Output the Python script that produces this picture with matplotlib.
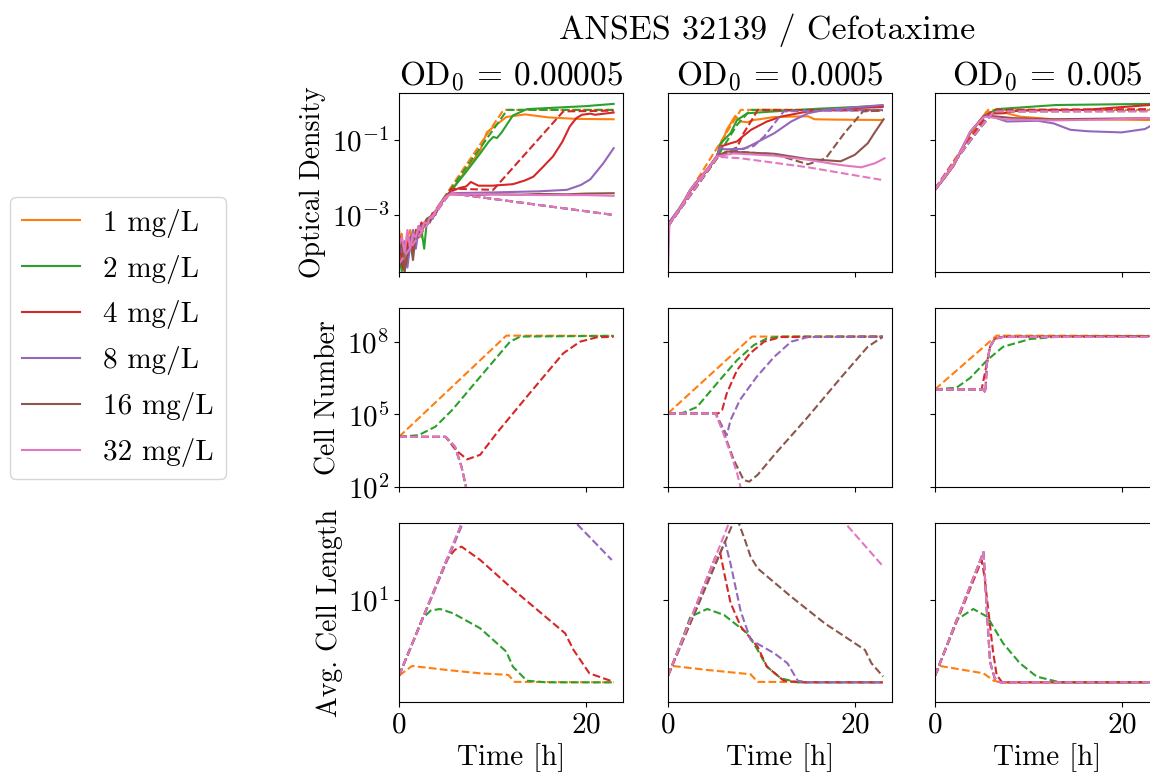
import numpy as np
import matplotlib.pyplot as plt

plt.rcParams['font.family'] = 'serif'
plt.rcParams['font.serif'] = ['cmr10']
plt.rcParams['mathtext.fontset'] = 'cm'
plt.rcParams['axes.formatter.use_mathtext'] = True

concs = ['1 mg/L', '2 mg/L', '4 mg/L', '8 mg/L', '16 mg/L', '32 mg/L']
colors = ['tab:orange', 'tab:green', 'tab:red', 'tab:purple', 'tab:brown', 'tab:pink']
od0 = ['0.00005', '0.0005', '0.005']

# ---- measured OD (solid lines), values are log10(OD) ----
early1 = [0, 0.3, 0.6, 0.9, 1.2, 1.5, 1.8, 2.1, 2.4, 2.7, 3.0, 3.3, 3.6, 3.9, 4.2, 4.6, 5.0]
od_meas_1 = [
    (early1 + [5.5, 7.2, 8.7, 9.4, 9.8, 10.3, 11.5, 13.5, 16, 19, 23],
     [-3.9, -3.5, -4.4, -3.6, -3.4, -3.9, -3.5, -3.3, -3.6, -3.2, -3.1, -3.2, -3.0, -2.95, -2.8, -2.65, -2.52,
      -2.38, -1.8, -1.28, -0.8, -0.72, -0.62, -0.39, -0.32, -0.4, -0.44, -0.45]),
    (early1 + [5.5, 7.2, 8.7, 9.6, 10.1, 10.5, 11.0, 12.2, 13.7, 16, 20, 23],
     [-4.1, -4.5, -3.8, -4.2, -3.6, -3.5, -3.7, -3.3, -3.4, -3.9, -3.1, -3.05, -3.1, -2.9, -2.8, -2.62, -2.5,
      -2.38, -1.85, -1.36, -1.05, -0.92, -0.95, -0.8, -0.35, -0.18, -0.15, -0.1, -0.04]),
    (early1 + [5.5, 6.5, 7.2, 7.7, 8.5, 10, 12.2, 13.5, 14.4, 15.5, 16.5, 17.5, 18.3, 19.0, 19.6, 20.5, 21, 23],
     [-3.4, -4.3, -4.5, -3.8, -3.6, -4.0, -3.4, -3.5, -3.2, -3.3, -3.15, -3.1, -2.95, -3.0, -2.78, -2.66, -2.52,
      -2.38, -2.28, -2.24, -2.12, -2.22, -2.22, -2.18, -2.08, -1.98, -1.7, -1.44, -1.05, -0.64, -0.42, -0.33,
      -0.3, -0.33, -0.27]),
    (early1 + [5.5, 10, 15, 18, 19.5, 20.5, 21.9, 23],
     [-3.6, -4.0, -3.7, -4.4, -3.8, -3.4, -3.9, -3.4, -3.3, -3.25, -3.2, -3.05, -3.1, -2.9, -2.82, -2.63, -2.53,
      -2.42, -2.4, -2.37, -2.33, -2.2, -2.05, -1.62, -1.22]),
    (early1 + [5.5, 8, 10, 13, 15, 18, 20, 23],
     [-4.0, -3.7, -4.5, -4.1, -3.7, -4.2, -3.5, -3.6, -3.4, -3.3, -3.1, -3.2, -3.0, -2.97, -2.8, -2.66, -2.5,
      -2.45, -2.47, -2.45, -2.46, -2.44, -2.45, -2.43, -2.42]),
    (early1 + [5.5, 10, 15, 20, 23],
     [-3.8, -3.6, -4.0, -3.4, -3.9, -3.5, -3.6, -3.3, -3.45, -3.2, -3.22, -3.08, -3.02, -2.92, -2.78, -2.64, -2.52,
      -2.45, -2.45, -2.47, -2.47, -2.49]),
]

early2 = [0, 0.15, 0.5, 1.0, 1.5, 2.4, 3.3, 4.2, 5.25]
od_meas_2 = [
    (early2 + [5.6, 6.3, 7.2, 7.8, 8.5, 9.2, 11.4, 15.0, 15.7, 18, 23],
     [-3.35, -3.2, -3.08, -2.92, -2.75, -2.36, -2.05, -1.82, -1.45,
      -1.2, -0.73, -0.36, -0.51, -0.53, -0.47, -0.39, -0.37, -0.45, -0.46, -0.47]),
    (early2 + [5.6, 6.7, 7.4, 8.5, 11.4, 16, 23],
     [-3.3, -3.22, -3.1, -2.9, -2.72, -2.33, -2.08, -1.8, -1.44,
      -1.1, -0.82, -0.47, -0.29, -0.24, -0.17, -0.09]),
    (early2 + [5.6, 6.7, 7.4, 7.8, 8.9, 10.6, 12.1, 15, 18.5, 23],
     [-3.28, -3.18, -3.1, -2.93, -2.74, -2.35, -2.04, -1.78, -1.43,
      -1.18, -1.09, -1.04, -0.95, -0.73, -0.51, -0.38, -0.24, -0.17, -0.12]),
    (early2 + [5.6, 6.0, 8.1, 9.1, 11.4, 13.2, 15, 16.8, 23],
     [-3.3, -3.2, -3.06, -2.9, -2.73, -2.32, -2.06, -1.8, -1.42,
      -1.18, -1.25, -1.24, -1.12, -0.82, -0.51, -0.29, -0.2, -0.07]),
    (early2 + [6.3, 11.4, 15, 18.5, 20, 21.4, 22.1, 23.1],
     [-3.4, -3.25, -3.1, -2.94, -2.76, -2.34, -2.05, -1.8, -1.44,
      -1.31, -1.37, -1.51, -1.57, -1.4, -1.09, -0.82, -0.45]),
    (early2 + [7.05, 11.4, 15, 18.5, 20.7, 22.2, 23.2],
     [-4.5, -3.25, -3.1, -2.92, -2.74, -2.33, -2.05, -1.79, -1.44,
      -1.36, -1.42, -1.53, -1.67, -1.73, -1.62, -1.49]),
]

early3 = [0, 1.1, 2.0, 3.8, 5.2]
od_meas_3 = [
    (early3 + [5.5, 7.7, 9.1, 12.7, 16, 23],
     [-2.33, -1.98, -1.69, -0.8, -0.36, -0.25, -0.29, -0.38, -0.45, -0.45, -0.47]),
    (early3 + [6.6, 13, 23],
     [-2.33, -1.99, -1.67, -0.8, -0.38, -0.18, -0.07, -0.04]),
    (early3 + [5.8, 7.3, 8.2, 9.1, 16, 23],
     [-2.33, -1.98, -1.68, -0.79, -0.37, -0.3, -0.29, -0.24, -0.22, -0.2, -0.07]),
    (early3 + [5.5, 7.7, 11, 12.7, 14.5, 16.4, 20, 22.5, 23],
     [-2.33, -1.97, -1.66, -0.78, -0.38, -0.33, -0.51, -0.49, -0.56, -0.73, -0.77, -0.8, -0.71, -0.64]),
    (early3 + [5.5, 8.4, 12.7, 23],
     [-2.34, -1.98, -1.67, -0.78, -0.39, -0.35, -0.42, -0.45, -0.42]),
    (early3 + [5.5, 7.4, 12.7, 18, 23],
     [-2.33, -1.98, -1.67, -0.77, -0.4, -0.38, -0.45, -0.48, -0.46, -0.42]),
]

# ---- model OD (dashed), log10(OD) ----
od_model_1 = [
    ([0, 11.2, 23], [-4.3, -0.2, -0.2]),
    ([0, 5.5, 11.6, 23], [-4.3, -2.33, -0.2, -0.2]),
    ([0, 5.6, 10.1, 17.6, 23], [-4.3, -2.3, -2.33, -0.24, -0.22]),
    ([0, 5.5, 7, 23], [-4.3, -2.4, -2.47, -3.0]),
    ([0, 5.5, 7, 23], [-4.3, -2.4, -2.47, -3.0]),
    ([0, 5.5, 7, 23], [-4.3, -2.4, -2.47, -3.0]),
]
od_model_2 = [
    ([0, 7.8, 23], [-3.3, -0.2, -0.2]),
    ([0, 5.4, 7.4, 8.85, 23], [-3.3, -1.4, -0.6, -0.2, -0.2]),
    ([0, 5.5, 7.4, 8.1, 9.2, 9.6, 23], [-3.3, -1.4, -1.2, -0.82, -0.38, -0.2, -0.22]),
    ([0, 5.5, 7, 9.2, 10.3, 11.4, 12.4, 23], [-3.3, -1.4, -1.3, -1.16, -0.91, -0.56, -0.24, -0.2]),
    ([0, 5.5, 7, 11.4, 15, 16.9, 18.9, 20.9, 23], [-3.3, -1.4, -1.31, -1.38, -1.65, -1.49, -0.82, -0.24, -0.22]),
    ([0, 5.3, 7.8, 15, 23], [-3.3, -1.45, -1.49, -1.73, -2.07]),
]
od_model_3 = [
    ([0, 5.7, 23], [-2.3, -0.2, -0.2]),
    ([0, 6.2, 23], [-2.3, -0.21, -0.2]),
    ([0, 5.5, 6.5, 23], [-2.3, -0.35, -0.2, -0.18]),
    ([0, 3.8, 6.3, 23], [-2.3, -1.0, -0.24, -0.23]),
    ([0, 3.8, 6.3, 23], [-2.3, -1.0, -0.24, -0.23]),
    ([0, 3.8, 6.3, 23], [-2.3, -1.0, -0.24, -0.24]),
]

# ---- model cell number (dashed), log10(N) ----
cells_1 = [
    ([0, 11.5, 23], [4.07, 8.25, 8.24]),
    ([0, 2.1, 3.9, 5.7, 8.7, 11.9, 13.0, 23], [4.07, 4.14, 4.49, 5.18, 6.55, 8.0, 8.21, 8.24]),
    ([0, 5.0, 6.1, 7.3, 8.7, 10.5, 14.0, 17.6, 19.4, 21.2, 23],
     [4.07, 4.07, 3.52, 3.14, 3.33, 4.24, 5.87, 7.52, 8.0, 8.18, 8.2]),
    ([0, 5.0, 6.0, 6.7, 7.2, 8.5], [4.07, 4.07, 3.66, 2.83, 1.97, 0.5]),
    ([0, 5.0, 6.0, 6.7, 7.2, 8.5], [4.07, 4.07, 3.66, 2.83, 1.97, 0.5]),
    ([0, 5.0, 6.0, 6.7, 7.2, 8.5], [4.07, 4.07, 3.66, 2.83, 1.97, 0.5]),
]
cells_2 = [
    ([0, 9.0, 23], [5.04, 8.21, 8.21]),
    ([0, 1.6, 3.1, 5.25, 7.4, 9.2, 10.6, 12, 23], [5.04, 5.06, 5.3, 6.28, 7.24, 7.86, 8.13, 8.21, 8.21]),
    ([0, 5.4, 5.8, 6.3, 7.4, 8.8, 10.3, 12.1, 23], [5.04, 5.04, 5.18, 5.87, 6.83, 7.52, 8.0, 8.19, 8.21]),
    ([0, 5.1, 6.3, 6.7, 7.7, 9.5, 11.4, 13.2, 15, 23], [5.04, 5.04, 4.14, 4.76, 5.59, 6.55, 7.38, 8.0, 8.19, 8.21]),
    ([0, 5.1, 6.0, 7.05, 8.1, 8.7, 9.6, 11.4, 15, 18.6, 21.4, 22.5, 23],
     [5.04, 5.04, 4.22, 3.12, 2.29, 2.22, 2.5, 3.33, 4.9, 6.55, 7.79, 8.07, 8.19]),
    ([0, 5.1, 5.8, 6.7, 7.4, 7.8, 8.5], [5.04, 5.04, 4.35, 3.4, 2.57, 1.95, 1.0]),
]
cells_3 = [
    ([0, 6.6, 23], [6.03, 8.25, 8.24]),
    ([0, 2.3, 3.76, 5.6, 7.3, 10.2, 12.7, 23], [6.03, 6.1, 6.5, 7.24, 7.79, 8.11, 8.19, 8.22]),
    ([0, 5.0, 5.5, 5.9, 6.4, 7.3, 23], [6.03, 6.03, 7.0, 7.79, 8.12, 8.2, 8.22]),
    ([0, 5.2, 5.4, 5.56, 5.9, 6.4, 7.3, 23], [6.03, 6.03, 5.9, 7.1, 7.79, 8.12, 8.2, 8.22]),
    ([0, 5.2, 5.4, 5.56, 5.9, 6.4, 7.3, 23], [6.03, 6.03, 5.9, 7.1, 7.79, 8.12, 8.2, 8.22]),
    ([0, 5.2, 5.4, 5.56, 5.9, 6.4, 7.3, 23], [6.03, 6.03, 5.88, 7.1, 7.79, 8.12, 8.19, 8.2]),
]

# ---- model average cell length (dashed), log10(L) ----
length_1 = [
    ([0, 1.4, 5.1, 8.7, 11.7, 12.4, 23], [0.353, 0.436, 0.402, 0.373, 0.36, 0.30, 0.296]),
    ([0, 1.6, 2.5, 3.4, 4.4, 5.8, 8.7, 11.5, 12.2, 13.7, 15.8, 23],
     [0.353, 0.66, 0.84, 0.91, 0.923, 0.886, 0.758, 0.558, 0.43, 0.31, 0.296, 0.296]),
    ([0, 5.1, 6.0, 6.7, 8.7, 12.3, 17.8, 18.7, 20.4, 23],
     [0.353, 1.342, 1.43, 1.456, 1.342, 1.085, 0.715, 0.573, 0.373, 0.30]),
    ([0, 11, 19.0, 22.8], [0.353, 2.45, 1.655, 1.342]),
    ([0, 12, 23], [0.353, 2.68, 2.0]),
    ([0, 12, 23], [0.353, 2.68, 2.2]),
]
length_2 = [
    ([0, 0.5, 4.2, 8.85, 9.6, 23], [0.353, 0.436, 0.402, 0.365, 0.30, 0.296]),
    ([0, 1.5, 2.4, 4.2, 6.0, 8.5, 9.6, 10.6, 12.1, 13.9, 23],
     [0.353, 0.66, 0.857, 0.923, 0.872, 0.715, 0.573, 0.43, 0.33, 0.296, 0.296]),
    ([0, 5.1, 5.6, 6.1, 6.7, 7.8, 9.6, 10.6, 12.4, 14.2, 23],
     [0.353, 1.37, 1.40, 1.2, 0.976, 0.772, 0.6, 0.43, 0.31, 0.296, 0.296]),
    ([0, 6.1, 6.7, 7.8, 8.85, 11.4, 12.8, 13.9, 15, 23],
     [0.353, 1.5, 1.31, 0.9, 0.66, 0.544, 0.459, 0.31, 0.296, 0.296]),
    ([0, 7.3, 8.3, 8.85, 9.6, 13.2, 16.8, 21.1, 21.8, 23.05],
     [0.353, 1.72, 1.5, 1.37, 1.27, 1.028, 0.8, 0.573, 0.459, 0.345]),
    ([0, 11, 19.0, 22.9], [0.353, 2.55, 1.655, 1.3]),
]
length_3 = [
    ([0, 0.54, 5.2, 6.3, 7.0, 23], [0.353, 0.436, 0.373, 0.31, 0.296, 0.296]),
    ([0, 1.5, 2.3, 4.1, 5.6, 7.3, 9.1, 10.9, 13.4, 23],
     [0.353, 0.66, 0.83, 0.923, 0.857, 0.63, 0.459, 0.345, 0.296, 0.296]),
    ([0, 5.0, 5.3, 6.2, 6.6, 7.2, 23], [0.353, 1.34, 1.2, 0.57, 0.36, 0.296, 0.296]),
    ([0, 5.2, 5.56, 5.9, 6.4, 7.0, 23], [0.353, 1.41, 0.9, 0.47, 0.33, 0.296, 0.296]),
    ([0, 5.2, 5.56, 5.9, 6.4, 7.0, 23], [0.353, 1.41, 0.9, 0.47, 0.33, 0.296, 0.296]),
    ([0, 5.2, 5.56, 5.9, 6.4, 7.0, 23], [0.353, 1.41, 0.9, 0.47, 0.33, 0.296, 0.296]),
]

meas = [od_meas_1, od_meas_2, od_meas_3]
models = [[od_model_1, od_model_2, od_model_3],
          [cells_1, cells_2, cells_3],
          [length_1, length_2, length_3]]
ylabels = ['Optical Density', 'Cell Number', 'Avg. Cell Length']
ylims = [(10 ** -4.52, 10 ** 0.25), (1e2, 10 ** 9.39), (10 ** 0.128, 10 ** 1.658)]
yticks = [[1e-3, 1e-1], [1e2, 1e5, 1e8], [1e1]]

W, H = 1150, 776
fig = plt.figure(figsize=(W / 100, H / 100), dpi=100)
lefts = [399, 668, 935]
tops = [93, 308, 523]
aw, ah = 224, 179

handles = []
for r in range(3):
    for c in range(3):
        ax = fig.add_axes([lefts[c] / W, 1 - (tops[r] + ah) / H, aw / W, ah / H])
        ax.set_yscale('log')
        for i in range(6):
            if r == 0:
                t, v = meas[c][i]
                ln, = ax.plot(t, 10 ** np.array(v), color=colors[i], lw=1.5, label=concs[i])
                if c == 0:
                    handles.append(ln)
            t, v = models[r][c][i]
            ax.plot(t, 10 ** np.array(v), color=colors[i], lw=1.5, ls='--')
        ax.set_xlim(0, 24)
        ax.set_ylim(*ylims[r])
        ax.set_yticks(yticks[r])
        ax.yaxis.set_minor_locator(plt.NullLocator())
        ax.set_xticks([0, 20])
        ax.tick_params(labelsize=21)
        if c == 0:
            ax.set_ylabel(ylabels[r], fontsize=20)
        else:
            ax.set_yticklabels([])
        if r == 2:
            ax.set_xlabel('Time [h]', fontsize=21)
        else:
            ax.set_xticklabels([])
        if r == 0:
            ax.set_title('OD$_0$ = ' + od0[c], fontsize=24, pad=6)

fig.text(767 / W, 1 - 30 / H, 'ANSES 32139 / Cefotaxime', ha='center', va='center', fontsize=24.5)
fig.legend(handles=handles, loc='upper left', bbox_to_anchor=(10 / W, 1 - 197 / H),
           borderaxespad=0, fontsize=21, labelspacing=0.58)

fig.savefig('out.png', dpi=100)
